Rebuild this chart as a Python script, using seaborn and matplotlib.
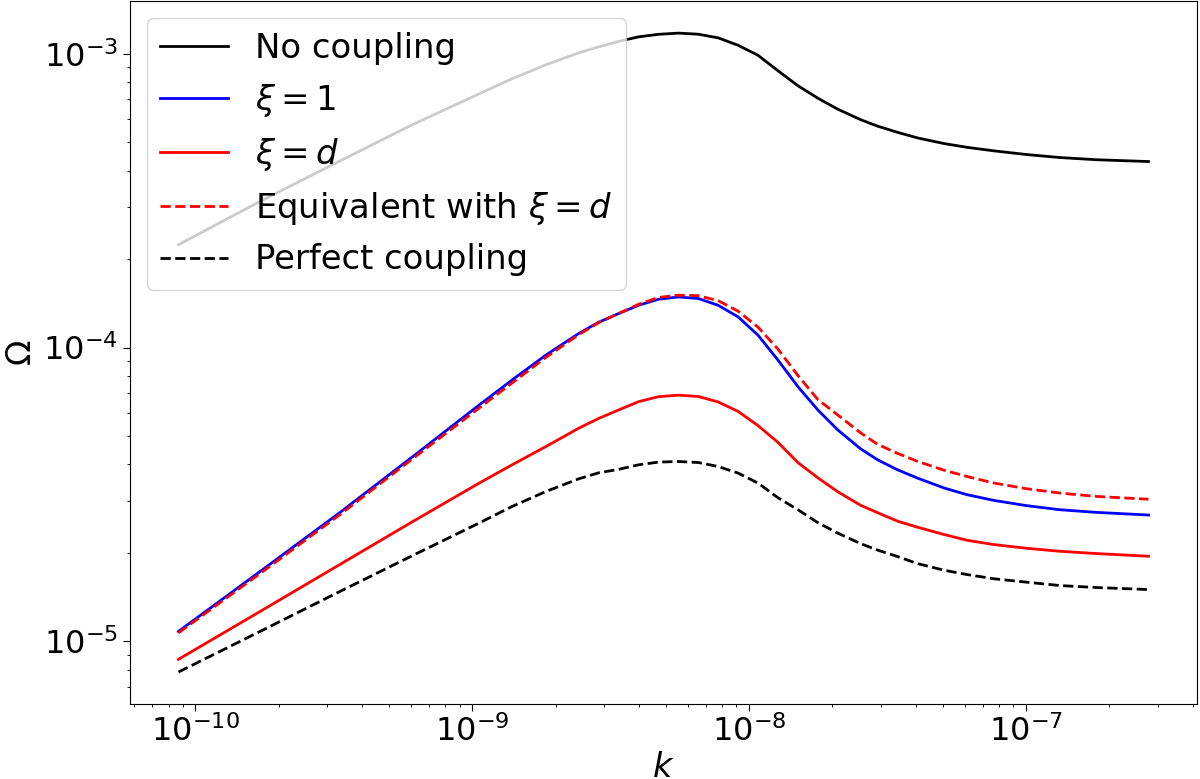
import numpy as np
import pandas as pd
import matplotlib
matplotlib.use("Agg")
import matplotlib.pyplot as plt
import seaborn as sns

# wavenumber k
k = [8.69e-11, 1.713e-10, 3.323e-10, 6.085e-10, 1.060e-9, 1.393e-9, 1.846e-9,
     2.426e-9, 2.862e-9, 3.379e-9, 3.988e-9, 4.706e-9, 5.553e-9, 6.553e-9,
     7.735e-9, 9.129e-9, 1.077e-8, 1.271e-8, 1.501e-8, 1.771e-8, 2.090e-8,
     2.528e-8, 2.911e-8, 3.436e-8, 4.055e-8, 5.070e-8, 6.134e-8, 7.669e-8,
     1.008e-7, 1.325e-7, 1.800e-7, 2.770e-7]

no_coupling = [2.240e-4, 3.145e-4, 4.315e-4, 5.740e-4, 7.313e-4, 8.225e-4, 9.176e-4,
               1.008e-3, 1.056e-3, 1.102e-3, 1.142e-3, 1.165e-3, 1.176e-3, 1.166e-3,
               1.133e-3, 1.069e-3, 9.883e-4, 8.757e-4, 7.786e-4, 7.062e-4, 6.480e-4,
               5.968e-4, 5.672e-4, 5.404e-4, 5.173e-4, 4.947e-4, 4.803e-4, 4.673e-4,
               4.539e-4, 4.435e-4, 4.359e-4, 4.298e-4]

xi_one = [1.081e-5, 1.729e-5, 2.742e-5, 4.248e-5, 6.378e-5, 7.757e-5, 9.430e-5,
          1.117e-4, 1.220e-4, 1.306e-4, 1.393e-4, 1.461e-4, 1.487e-4, 1.469e-4,
          1.393e-4, 1.272e-4, 1.102e-4, 9.071e-5, 7.361e-5, 6.134e-5, 5.247e-5,
          4.522e-5, 4.150e-5, 3.837e-5, 3.596e-5, 3.325e-5, 3.156e-5, 3.018e-5,
          2.896e-5, 2.806e-5, 2.748e-5, 2.692e-5]

xi_d = [8.687e-6, 1.264e-5, 1.826e-5, 2.555e-5, 3.458e-5, 3.990e-5, 4.604e-5,
        5.317e-5, 5.739e-5, 6.134e-5, 6.546e-5, 6.806e-5, 6.887e-5, 6.817e-5,
        6.530e-5, 6.062e-5, 5.426e-5, 4.758e-5, 4.060e-5, 3.604e-5, 3.231e-5,
        2.905e-5, 2.742e-5, 2.565e-5, 2.447e-5, 2.309e-5, 2.208e-5, 2.135e-5,
        2.074e-5, 2.026e-5, 1.990e-5, 1.949e-5]

equiv_xi_d = [1.069e-5, 1.702e-5, 2.698e-5, 4.182e-5, 6.230e-5, 7.578e-5, 9.263e-5,
              1.107e-4, 1.216e-4, 1.306e-4, 1.404e-4, 1.481e-4, 1.508e-4, 1.502e-4,
              1.444e-4, 1.330e-4, 1.174e-4, 9.883e-5, 8.035e-5, 6.658e-5, 5.898e-5,
              5.126e-5, 4.684e-5, 4.365e-5, 4.101e-5, 3.822e-5, 3.640e-5, 3.458e-5,
              3.307e-5, 3.198e-5, 3.114e-5, 3.047e-5]

perfect = [7.864e-6, 1.081e-5, 1.478e-5, 1.959e-5, 2.529e-5, 2.879e-5, 3.238e-5,
           3.576e-5, 3.748e-5, 3.851e-5, 3.990e-5, 4.076e-5, 4.095e-5, 4.063e-5,
           3.937e-5, 3.739e-5, 3.458e-5, 3.083e-5, 2.806e-5, 2.535e-5, 2.336e-5,
           2.151e-5, 2.045e-5, 1.944e-5, 1.840e-5, 1.746e-5, 1.688e-5, 1.633e-5,
           1.590e-5, 1.549e-5, 1.525e-5, 1.501e-5]

labels = ["No coupling", r"$\xi = 1$", r"$\xi = d$",
          r"Equivalent with $\xi = d$", "Perfect coupling"]

fig, ax = plt.subplots(figsize=(12, 7.79), dpi=100)
fig.subplots_adjust(left=0.1083, right=0.9975, top=0.9985, bottom=0.0963)

series = [
    (no_coupling, "black", "-"),
    (xi_one, "blue", "-"),
    (xi_d, "red", "-"),
    (equiv_xi_d, "red", "--"),
    (perfect, "black", "--"),
]
for (vals, col, ls), lab in zip(series, labels):
    df = pd.DataFrame({"k": k, "omega": vals})
    sns.lineplot(data=df, x="k", y="omega", ax=ax, color=col, linestyle=ls,
                 linewidth=2, label=lab, sort=False)

ax.set_xscale("log")
ax.set_yscale("log")
ax.set_xlabel(r"$k$", fontsize=24, labelpad=2)
ax.set_ylabel(r"$\Omega$", fontsize=24)
ax.tick_params(axis="both", which="major", labelsize=23, length=5)
ax.legend(loc="upper left", fontsize=24.4, framealpha=0.8, handlelength=2.0)

fig.savefig("out.png", dpi=100)
